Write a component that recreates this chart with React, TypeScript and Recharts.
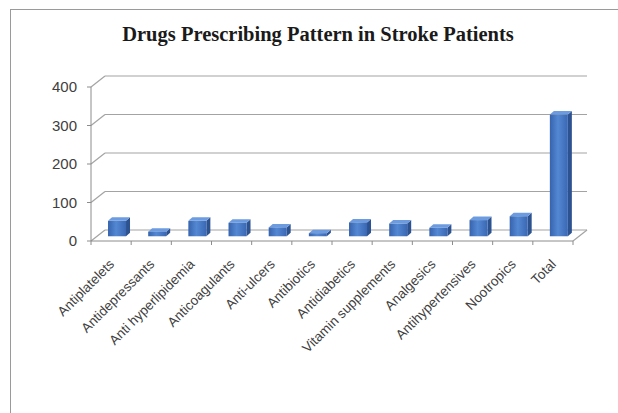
import React from "react";
import { BarChart, Bar, XAxis, YAxis, CartesianGrid } from "recharts";

const categories = [
  "Antiplatelets",
  "Antidepressants",
  "Anti hyperlipidemia",
  "Anticoagulants",
  "Anti-ulcers",
  "Antibiotics",
  "Antidiabetics",
  "Vitamin supplements",
  "Analgesics",
  "Antihypertensives",
  "Nootropics",
  "Total",
];
const prescriptions = [40, 12, 40, 35, 23, 8, 36, 33, 22, 42, 52, 316];
const yTicks = [0, 100, 200, 300, 400];

const data = categories.map((name, i) => ({ name, value: prescriptions[i] }));

// 3D depth offsets (back wall vs. front plane)
const DX = 14;
const DY = -11;
const GRID = "#a3a3a3";
const AXIS = "#8c8c8c";
const LABEL = "#404040";
const W = 618;
const H = 413;
const PLOT_LEFT = 91;
const PLOT_RIGHT = 573;
const PLOT_TOP = 87;
const PLOT_BOTTOM = 241;
const BAND = (PLOT_RIGHT - PLOT_LEFT) / categories.length;

const gridLine = (p: any) => {
  const isFloor = Math.abs(p.y1 - PLOT_BOTTOM) < 1;
  return (
    <g key={`g-${p.y1}`}>
      <line x1={p.x1} y1={p.y1} x2={p.x1 + DX} y2={p.y1 + DY} stroke={GRID} strokeWidth={1.2} />
      <line x1={p.x1 + DX} y1={p.y1 + DY} x2={p.x2 + DX} y2={p.y2 + DY} stroke={GRID} strokeWidth={1.2} />
      {isFloor && (
        <line x1={p.x2} y1={p.y2} x2={p.x2 + DX} y2={p.y2 + DY} stroke={GRID} strokeWidth={1.2} />
      )}
    </g>
  );
};

const Bar3D = (props: any) => {
  const { x, y, width, height } = props;
  if (width == null || height == null) return null;
  const x0 = x + DX * 0.43;
  const y0 = y + DY * 0.43;
  const d = 4;
  const t = 3.5;
  return (
    <g>
      <polygon
        points={`${x0 + width},${y0} ${x0 + width + d},${y0 - t} ${x0 + width + d},${y0 + height - t} ${x0 + width},${y0 + height}`}
        fill="#2c5290"
      />
      <polygon
        points={`${x0},${y0} ${x0 + width},${y0} ${x0 + width + d},${y0 - t} ${x0 + d},${y0 - t}`}
        fill="#6d9be0"
      />
      <rect x={x0} y={y0} width={width} height={height} fill="url(#barFront)" />
    </g>
  );
};

const XTick = (props: any) => {
  const { x, payload, index } = props;
  const ty = PLOT_BOTTOM + 24;
  const tx = x + 4;
  return (
    <g>
      {index === 0 && (
        <line x1={x - BAND / 2} y1={PLOT_BOTTOM} x2={x - BAND / 2} y2={PLOT_BOTTOM + 4} stroke={AXIS} />
      )}
      <line x1={x + BAND / 2} y1={PLOT_BOTTOM} x2={x + BAND / 2} y2={PLOT_BOTTOM + 4} stroke={AXIS} />
      <text
        x={tx}
        y={ty}
        transform={`rotate(-45, ${tx}, ${ty})`}
        textAnchor="end"
        fontSize={13.5}
        fontFamily="'Liberation Sans', Arial, sans-serif"
        fill={LABEL}
      >
        {payload.value}
      </text>
    </g>
  );
};

export default function App() {
  return (
    <div
      style={{
        position: "fixed",
        left: 0,
        top: 0,
        width: W,
        height: H,
        overflow: "hidden",
        background: "#fff",
      }}
    >
      <div
        style={{
          position: "absolute",
          left: 10,
          top: 9,
          width: 700,
          height: 500,
          border: "1.5px solid #9a9a9a",
        }}
      />
      <div
        style={{
          position: "absolute",
          left: 0,
          width: 636,
          top: 22,
          textAlign: "center",
          fontFamily: "'Liberation Serif', 'Times New Roman', serif",
          fontWeight: "bold",
          fontSize: 20.5,
          lineHeight: "24px",
          color: "#1a1a1a",
        }}
      >
        Drugs Prescribing Pattern in Stroke Patients
      </div>
      <div style={{ position: "absolute", left: 0, top: 0 }}>
        <BarChart
          width={W}
          height={H}
          data={data}
          margin={{ top: PLOT_TOP, right: W - PLOT_RIGHT, left: PLOT_LEFT - 40, bottom: H - PLOT_BOTTOM - 120 }}
          barSize={18}
        >
          <defs>
            <linearGradient id="barFront" x1="0" y1="0" x2="1" y2="0">
              <stop offset="0%" stopColor="#3763ad" />
              <stop offset="45%" stopColor="#5488d3" />
              <stop offset="100%" stopColor="#3a67b3" />
            </linearGradient>
          </defs>
          <CartesianGrid vertical={false} horizontal={gridLine} />
          <XAxis
            dataKey="name"
            interval={0}
            height={120}
            axisLine={{ stroke: AXIS }}
            tickLine={false}
            tick={<XTick />}
          />
          <YAxis
            width={40}
            domain={[0, 400]}
            ticks={yTicks}
            interval={0}
            axisLine={{ stroke: AXIS }}
            tickLine={{ stroke: AXIS }}
            tickSize={4}
            tickMargin={10}
            tick={{ fill: LABEL, fontSize: 15, fontFamily: "'Liberation Sans', Arial, sans-serif" }}
          />
          <Bar dataKey="value" shape={<Bar3D />} isAnimationActive={false} />
        </BarChart>
      </div>
    </div>
  );
}
